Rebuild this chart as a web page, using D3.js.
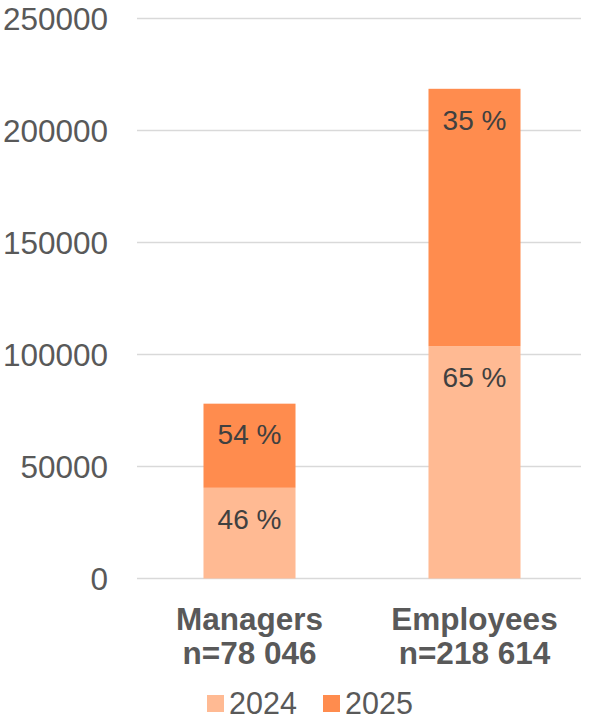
<!DOCTYPE html>
<html>
<head>
<meta charset="utf-8">
<script src="https://cdn.jsdelivr.net/npm/d3@7"></script>
<style>
  html, body { margin: 0; padding: 0; background: #fff; }
  svg { display: block; font-family: "Liberation Sans", Arial, sans-serif; }
</style>
</head>
<body>
<svg id="chart" width="589" height="719"></svg>
<script>
// Groups and their sizes
const categories = ["Managers", "Employees"];
const categoryTotals = ["n=78 046", "n=218 614"];
// Stacked segment values per year
const values2024 = [40500, 103700];
const values2025 = [37546, 114914];
// Percent labels shown in each segment
const labels2024 = ["46 %", "65 %"];
const labels2025 = ["54 %", "35 %"];
const yTicks = [0, 50000, 100000, 150000, 200000, 250000];
const seriesNames = ["2024", "2025"];
const seriesColors = ["#FFBA93", "#FF8C4E"];

const svg = d3.select("#chart");
const plot = { left: 137, right: 581, top: 18.5, bottom: 578.5 };

const x = d3.scaleBand()
  .domain(categories)
  .range([137, 587])
  .paddingInner(0.591)
  .paddingOuter(0.2955);

const y = d3.scaleLinear()
  .domain([0, 250000])
  .range([plot.bottom, plot.top]);

// Gridlines
svg.append("g")
  .selectAll("line")
  .data(yTicks)
  .join("line")
  .attr("x1", plot.left)
  .attr("x2", plot.right)
  .attr("y1", d => y(d))
  .attr("y2", d => y(d))
  .attr("stroke", "#D9D9D9")
  .attr("stroke-width", 1.5);

// Y axis labels
const yAxis = d3.axisLeft(y).tickValues(yTicks).tickSize(0).tickPadding(0).tickFormat(d3.format("d"));
const yg = svg.append("g").attr("transform", "translate(108,0)").call(yAxis);
yg.select(".domain").remove();
yg.selectAll("text")
  .attr("fill", "#595959")
  .attr("font-size", 31.5)
  .attr("font-family", "'Liberation Sans', Arial, sans-serif")
  .attr("dy", "0.35em");

// Stack the two years
const rows = categories.map((c, i) => ({ cat: c, "2024": values2024[i], "2025": values2025[i] }));
const stack = d3.stack().keys(seriesNames)(rows);
const segLabels = [labels2024, labels2025];

const layers = svg.append("g")
  .selectAll("g")
  .data(stack)
  .join("g")
  .attr("fill", (d, i) => seriesColors[i]);

layers.selectAll("rect")
  .data(d => d)
  .join("rect")
  .attr("x", d => x(d.data.cat))
  .attr("width", x.bandwidth())
  .attr("y", d => y(d[1]))
  .attr("height", d => y(d[0]) - y(d[1]));

// Segment labels near the top of each segment
stack.forEach((layer, li) => {
  svg.append("g")
    .selectAll("text")
    .data(layer)
    .join("text")
    .attr("x", d => x(d.data.cat) + x.bandwidth() / 2)
    .attr("y", d => y(d[1]) + 31)
    .attr("dy", "0.35em")
    .attr("text-anchor", "middle")
    .attr("fill", "#404040")
    .attr("font-size", 28)
    .text((d, i) => segLabels[li][i]);
});

// Category labels
const catG = svg.append("g");
categories.forEach((c, i) => {
  const cx = x(c) + x.bandwidth() / 2;
  const t = catG.append("text")
    .attr("text-anchor", "middle")
    .attr("fill", "#595959")
    .attr("font-size", 31.5)
    .attr("font-weight", "bold");
  t.append("tspan").attr("x", cx).attr("y", 630).text(c);
  t.append("tspan").attr("x", cx).attr("y", 664).text(categoryTotals[i]);
});

// Legend
const legendX = [207, 323];
const legend = svg.append("g");
seriesNames.forEach((s, i) => {
  legend.append("rect")
    .attr("x", legendX[i])
    .attr("y", 695)
    .attr("width", 17)
    .attr("height", 17)
    .attr("fill", seriesColors[i]);
  legend.append("text")
    .attr("x", legendX[i] + 22)
    .attr("y", 714)
    .attr("fill", "#595959")
    .attr("font-size", 30.5)
    .text(s);
});
</script>
</body>
</html>
